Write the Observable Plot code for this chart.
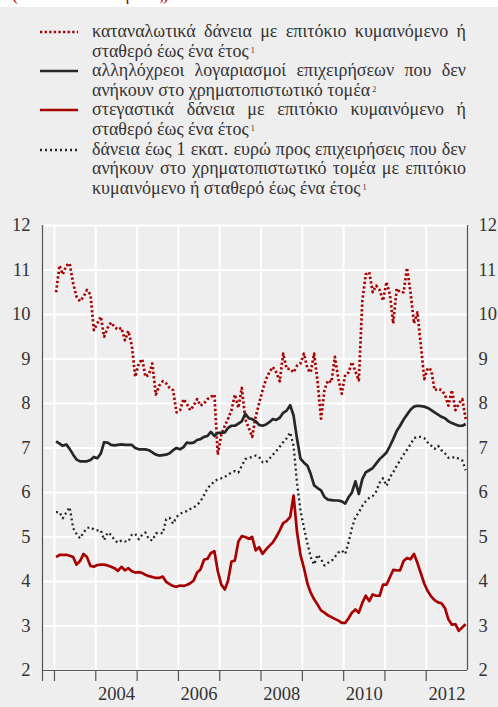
<!DOCTYPE html>
<html><head><meta charset="utf-8">
<script src="https://cdn.jsdelivr.net/npm/d3@7"></script>
<script src="https://cdn.jsdelivr.net/npm/@observablehq/plot@0.6"></script>
<style>
html,body{margin:0;padding:0;background:#fff;}
#page{position:relative;width:498px;height:707px;overflow:hidden;color:#333;}
#topnote{position:absolute;left:0;top:0;width:498px;height:7px;overflow:hidden;background:#fff;}
#topnote span{position:absolute;left:12px;top:-16px;font-size:18px;line-height:20px;color:#b00000;white-space:nowrap;}
#panel{position:absolute;left:0;top:7px;width:498px;height:700px;background:#eeeeee;}
#legend{position:absolute;left:0;top:15px;width:498px;}
.item{position:relative;}
.sw{position:absolute;left:40px;top:0;width:38px;height:20px;}
.txt{margin-left:92px;width:374px;font-size:18px;line-height:19.6px;text-align:justify;text-align-last:left;}
.txt sup{font-size:8px;line-height:0;vertical-align:baseline;position:relative;top:-4px;margin-left:2px;}
#chart{position:absolute;left:0;top:198px;}
</style>
</head><body>
<div id="page">
  <div id="topnote"><span style="font-family:'Liberation Serif'">(ποσοστά % ετησίως)</span></div>
  <div id="panel">
    <div id="legend"></div>
    <div id="chart"></div>
  </div>
</div>
<script>
// ---- data (monthly, Jan 2003 – Dec 2012) ----
const firstYear = 2003;
const consumer = [
 10.5, 11.1, 10.9, 11.1, 11.15, 10.7, 10.4, 10.3, 10.4, 10.55, 10.45, 9.65,
 9.8, 9.95, 9.5, 9.7, 9.82, 9.72, 9.66, 9.7, 9.42, 9.63, 9.3, 8.6,
 8.9, 9.0, 8.6, 8.65, 8.9, 8.2, 8.4, 8.5, 8.45, 8.35, 8.3, 7.8,
 7.85, 8.1, 8.0, 7.85, 7.95, 8.1, 7.95, 8.0, 8.1, 8.15, 8.2, 6.85,
 7.3, 7.5, 7.65, 7.85, 8.2, 7.9, 8.35, 7.65, 7.45, 7.25, 7.7, 8.0,
 8.3, 8.55, 8.7, 8.82, 8.7, 8.5, 9.12, 8.78, 8.78, 8.7, 8.85, 8.9,
 9.12, 8.78, 8.7, 9.12, 8.5, 7.66, 8.3, 8.52, 8.48, 9.05, 8.55, 8.22,
 8.65, 8.7, 8.93, 8.72, 8.52, 10.3, 10.9, 10.95, 10.5, 10.65, 10.55, 10.31,
 10.73, 10.43, 9.8, 10.58, 10.5, 10.5, 11.05, 10.5, 9.8, 10.05, 9.3, 8.55,
 8.8, 8.75, 8.3, 8.33, 8.3, 8.2, 7.95, 8.3, 7.85, 8.0, 8.1, 7.65
];
const overdrafts = [
 7.15, 7.1, 7.05, 7.08, 6.98, 6.85, 6.74, 6.7, 6.7, 6.7, 6.73, 6.8,
 6.77, 6.88, 7.13, 7.12, 7.07, 7.06, 7.07, 7.08, 7.07, 7.07, 7.07, 7.0,
 6.97, 6.97, 6.97, 6.95, 6.9, 6.85, 6.83, 6.84, 6.85, 6.88, 6.95, 7.0,
 6.97, 7.02, 7.12, 7.11, 7.12, 7.18, 7.2, 7.25, 7.27, 7.36, 7.27, 7.34,
 7.34, 7.35, 7.45, 7.5, 7.5, 7.55, 7.6, 7.77, 7.67, 7.65, 7.6, 7.52,
 7.5, 7.53, 7.58, 7.65, 7.63, 7.68, 7.79, 7.84, 7.96, 7.73, 7.2, 6.76,
 6.67, 6.6, 6.42, 6.16, 6.1, 6.05, 5.9, 5.84, 5.83, 5.82, 5.82, 5.8,
 5.75, 5.9, 6.0, 6.25, 5.97, 6.3, 6.45, 6.5, 6.55, 6.65, 6.75, 6.82,
 6.9, 7.05, 7.2, 7.38, 7.5, 7.64, 7.75, 7.86, 7.93, 7.95, 7.94, 7.93,
 7.9, 7.85, 7.8, 7.75, 7.7, 7.67, 7.6, 7.56, 7.53, 7.5, 7.5, 7.54
];
const housing = [
 4.55, 4.6, 4.6, 4.6, 4.58, 4.55, 4.38, 4.46, 4.62, 4.55, 4.35, 4.33,
 4.37, 4.38, 4.38, 4.36, 4.33, 4.3, 4.24, 4.33, 4.25, 4.3, 4.23, 4.2,
 4.21, 4.19, 4.15, 4.12, 4.1, 4.08, 4.08, 4.11, 3.99, 3.94, 3.9, 3.88,
 3.91, 3.9, 3.92, 3.96, 4.02, 4.2, 4.27, 4.49, 4.51, 4.64, 4.68, 4.23,
 3.93, 3.82, 4.01, 4.45, 4.47, 4.9, 5.02, 5.0, 4.96, 5.0, 4.7, 4.77,
 4.62, 4.72, 4.8, 4.88, 5.0, 5.15, 5.31, 5.36, 5.45, 5.93, 5.1, 4.6,
 4.3, 3.95, 3.75, 3.6, 3.48, 3.35, 3.3, 3.24, 3.2, 3.16, 3.12, 3.07,
 3.07, 3.18, 3.3, 3.37, 3.3, 3.52, 3.68, 3.56, 3.71, 3.68, 3.68, 3.93,
 3.93, 4.1, 4.26, 4.25, 4.25, 4.46, 4.53, 4.5, 4.62, 4.42, 4.18, 3.95,
 3.78, 3.66, 3.58, 3.53, 3.51, 3.4, 3.15, 3.03, 3.04, 2.89, 2.97, 3.04
];
const smallLoans = [
 5.56, 5.56, 5.42, 5.55, 5.67, 5.2, 5.07, 4.97, 5.1, 5.2, 5.22, 5.17,
 5.15, 5.15, 4.93, 5.1, 5.05, 4.93, 4.87, 4.92, 4.9, 4.9, 5.05, 5.07,
 4.95, 5.05, 5.1, 4.95, 4.92, 5.08, 5.1, 5.08, 5.4, 5.43, 5.3, 5.45,
 5.52, 5.56, 5.58, 5.63, 5.66, 5.72, 5.8, 5.94, 6.1, 6.17, 6.25, 6.3,
 6.32, 6.35, 6.4, 6.45, 6.48, 6.45, 6.6, 6.75, 6.78, 6.8, 6.83, 6.8,
 6.68, 6.68, 6.76, 6.85, 6.93, 7.03, 7.13, 7.22, 7.35, 7.05, 6.2, 5.6,
 5.2, 4.85, 4.55, 4.38, 4.6, 4.5, 4.36, 4.42, 4.46, 4.55, 4.65, 4.7,
 4.62, 4.9, 5.2, 5.45, 5.55, 5.7, 5.8, 5.88, 5.92, 6.02, 6.22, 6.32,
 6.15, 6.35, 6.45, 6.6, 6.72, 6.85, 6.96, 7.08, 7.22, 7.25, 7.25, 7.22,
 7.12, 7.05, 6.98, 7.05, 6.95, 6.88, 6.78, 6.78, 6.8, 6.76, 6.72, 6.5
];
const yTicks = [2, 3, 4, 5, 6, 7, 8, 9, 10, 11, 12];
const gridYears = [2003, 2004, 2005, 2006, 2007, 2008, 2009, 2010, 2011, 2012];
const labelYears = [2004, 2006, 2008, 2010, 2012];
const legendTexts = [
  ["καταναλωτικά δάνεια με επιτόκιο κυμαινόμενο ή σταθερό έως ένα έτος", "1"],
  ["αλληλόχρεοι λογαριασμοί επιχειρήσεων που δεν ανήκουν στο χρηματοπιστωτικό τομέα", "2"],
  ["στεγαστικά δάνεια με επιτόκιο κυμαινόμενο ή σταθερό έως ένα έτος", "1"],
  ["δάνεια έως 1 εκατ. ευρώ προς επιχειρήσεις που δεν ανήκουν στο χρηματοπιστωτικό τομέα με επιτόκιο κυμαινόμενο ή σταθερό έως ένα έτος", "1"]
];

// ---- styles ----
const FONT = "'Liberation Serif'";
const RED = "#a80000", BLACK = "#262626";
const styles = [
  {stroke: RED, strokeWidth: 2.7, dash: "2.3,2.3"},
  {stroke: BLACK, strokeWidth: 2.7, dash: null},
  {stroke: RED, strokeWidth: 2.7, dash: null},
  {stroke: BLACK, strokeWidth: 2.3, dash: "2,3"}
];

// legend
const legend = document.getElementById("legend");
legendTexts.forEach(([t, sup], i) => {
  const s = styles[i];
  const item = document.createElement("div");
  item.className = "item";
  item.innerHTML = `<svg class="sw" width="38" height="20"><line x1="0" x2="38" y1="10" y2="10" stroke="${s.stroke}" stroke-width="${s.strokeWidth}" ${s.dash ? `stroke-dasharray="${s.dash}"` : ""}/></svg><div class="txt" style="font-family:${FONT}">${t}<sup>${sup}</sup></div>`;
  legend.appendChild(item);
});

// ---- chart ----
const dates = consumer.map((_, i) => new Date(firstYear + Math.floor(i / 12), i % 12, 15));
const series = [consumer, overdrafts, housing, smallLoans];
const xStart = new Date(2002, 8, 17), xEnd = new Date(2012, 11, 31);
const yearStarts = gridYears.map(y => new Date(y, 0, 1));
const labelDates = labelYears.map(y => new Date(y, 6, 2));

const lineMarks = series.map((vals, k) => Plot.line(vals.map((v, i) => ({date: dates[i], value: v})), {
  x: "date", y: "value", stroke: styles[k].stroke, strokeWidth: styles[k].strokeWidth,
  strokeDasharray: styles[k].dash || undefined, strokeLinejoin: "round", strokeLinecap: "butt", curve: "linear"
}));

const chart = Plot.plot({
  width: 498, height: 502,
  marginTop: 20, marginBottom: 37, marginLeft: 42, marginRight: 31,
  style: {background: "transparent", fontFamily: FONT, fontSize: "18.5px", color: "#333", overflow: "visible"},
  x: {type: "time", domain: [xStart, xEnd]},
  y: {domain: [2, 12]},
  marks: [
    Plot.gridY(yTicks, {stroke: "#ffffff", strokeOpacity: 1, strokeWidth: 2}),
    Plot.gridX(yearStarts, {stroke: "#ffffff", strokeOpacity: 1, strokeWidth: 2}),
    Plot.ruleX([xStart], {stroke: "#555", strokeWidth: 1.2}),
    Plot.ruleX([xEnd], {stroke: "#555", strokeWidth: 1.2}),
    Plot.ruleY([2], {stroke: "#555", strokeWidth: 1.2}),
    Plot.axisY(yTicks, {anchor: "left", tickSize: 0, tickPadding: 12, label: null, fontSize: 18.5}),
    Plot.axisY(yTicks, {anchor: "right", tickSize: 0, tickPadding: 11, label: null, fontSize: 18.5}),
    Plot.axisX([xStart, ...yearStarts], {anchor: "bottom", tickSize: 11, tickFormat: () => "", label: null, stroke: "#555", strokeWidth: 1.2}),
    Plot.axisX(labelDates, {anchor: "bottom", tickSize: 0, tickPadding: 16, tickFormat: d => String(d.getFullYear()), label: null, fontSize: 18.5}),
    ...lineMarks
  ]
});
chart.querySelectorAll("text").forEach(t => t.setAttribute("font-family", "Liberation Serif"));
chart.style.fontFamily = "'Liberation Serif'";
document.getElementById("chart").appendChild(chart);
</script>
</body></html>
